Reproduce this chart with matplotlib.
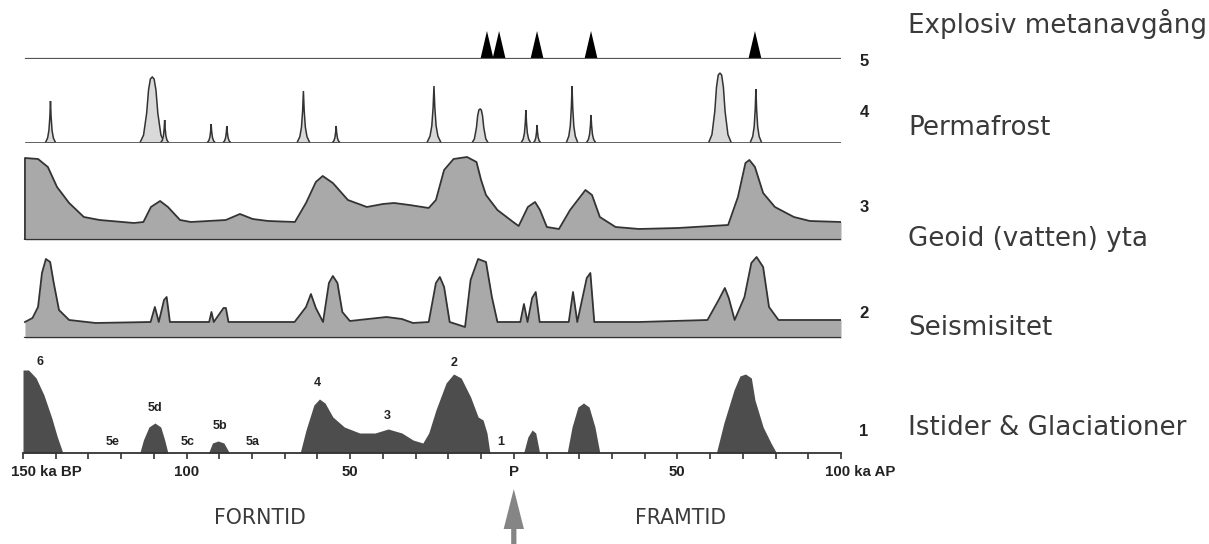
import numpy as np
import matplotlib
matplotlib.use('Agg')
from matplotlib import pyplot as plt

# time axis in ka: negative = before present (BP), positive = after present (AP)

# track 5 - explosive methane release
event_t = [-8.2, -4.5, 7.1, 23.6, 73.7]

# track 4 - permafrost peaks (centre, height, half width at base, rounded top?)
perma_t = [-141.6, -110.5, -106.7, -92.5, -87.7, -64.3, -54.3, -24.4, -10.3, 3.7, 7.1, 17.8, 23.6, 63.0, 74.0]
perma_h = [42, 66, 23, 19, 17, 52, 17, 57, 34, 33, 18, 57, 28, 70, 54]
perma_w = [1.6, 3.8, 1.3, 1.3, 1.3, 2.0, 1.3, 2.2, 2.5, 1.5, 1.2, 1.8, 1.5, 3.5, 1.8]
perma_round = [0, 1, 0, 0, 0, 0, 0, 0, 1, 0, 0, 0, 0, 1, 0]

# track 3 - geoid (water) surface
geoid_t = [-149.4, -145.4, -142.4, -139.6, -135.9, -131.4, -126.6, -116.1, -113.2, -110.9, -108.1, -105.7,
           -102.0, -98.7, -88.0, -83.7, -79.8, -75.1, -66.9, -63.5, -60.5, -58.4, -55.3, -50.7, -44.9,
           -40.0, -36.6, -31.9, -26.0, -23.8, -21.3, -18.4, -14.3, -11.4, -10.0, -8.5, -5.0, -0.2, 1.5,
           4.3, 6.5, 8.0, 10.1, 13.8, 17.2, 21.9, 23.9, 26.3, 31.1, 38.3, 50.2, 65.5, 68.5, 70.8, 72.0,
           73.7, 76.2, 79.8, 85.6, 90.5, 100.0]
geoid_h = [82, 81, 73, 53, 37, 23, 20, 17, 18, 33, 39, 33,
           20, 18, 20, 26, 21, 19, 18, 37, 58, 64, 57, 40, 33,
           36, 37, 35, 32, 40, 70, 81, 83, 78, 60, 45, 30, 18, 14,
           33, 38, 30, 13, 11, 30, 50, 45, 23, 13, 11, 12, 15, 43, 77, 80,
           73, 47, 33, 23, 19, 18]

# track 2 - seismicity
seis_t = [-149.4, -147.1, -145.4, -144.2, -143.0, -141.7, -140.6, -139.0, -135.9, -127.8, -111.0, -109.7,
          -108.5, -106.9, -106.1, -105.1, -93.1, -92.4, -91.7, -88.7, -88.0, -87.2, -67.0, -63.5, -62.0,
          -60.5, -58.3, -56.5, -55.3, -53.9, -52.4, -50.1, -38.9, -34.2, -30.8, -26.0, -23.8, -22.6, -21.3,
          -19.6, -14.9, -13.2, -10.9, -8.5, -6.7, -5.0, 2.0, 3.1, 4.2, 5.6, 6.7, 7.9, 16.8, 18.1, 19.4,
          22.3, 23.4, 24.6, 38.3, 59.2, 62.6, 64.5, 65.7, 67.5, 70.5, 72.6, 74.2, 76.2, 78.0, 80.9, 100.0]
seis_h = [16, 20, 31, 65, 79, 76, 55, 28, 18, 15, 16, 31,
          16, 38, 41, 16, 16, 26, 16, 30, 30, 16, 16, 31, 44,
          30, 16, 55, 62, 55, 26, 17, 21, 19, 15, 16, 55, 61, 51,
          16, 11, 58, 79, 76, 41, 16, 16, 34, 16, 40, 46, 16, 16, 46, 16,
          60, 65, 16, 16, 18, 38, 50, 40, 18, 41, 75, 81, 71, 31, 18, 18]

# track 1 - ice ages and glaciations
glac_t = [-150.0, -148.3, -146.0, -143.6, -141.2, -139.5, -137.8, -114.3, -113.2, -111.5, -109.7, -107.9,
          -106.7, -105.7, -93.3, -92.1, -90.4, -88.6, -86.9, -65.3, -63.5, -61.1, -59.4, -57.7, -55.3,
          -51.8, -47.1, -42.4, -38.4, -34.2, -30.8, -27.8, -26.0, -23.8, -20.7, -18.4, -16.1, -13.2, -10.9,
          -9.4, -8.2, -7.3, 3.0, 4.3, 5.6, 6.7, 7.9, 16.3, 17.8, 19.6, 21.3, 23.0, 24.8, 26.3, 61.9, 64.2,
          67.3, 69.1, 70.8, 72.6, 73.7, 76.2, 78.6, 80.3, 100.0]
glac_h = [83, 83, 75, 58, 35, 16, 0, 0, 13, 26, 30, 26,
          13, 0, 0, 10, 12, 10, 0, 0, 23, 48, 54, 50, 36,
          26, 20, 20, 24, 20, 13, 10, 20, 43, 70, 79, 75, 56, 36,
          33, 20, 0, 0, 16, 23, 20, 0, 0, 26, 46, 50, 46, 26, 0, 0, 30,
          63, 77, 79, 75, 53, 26, 10, 0, 0]

stage_txt = ['6', '5e', '5d', '5c', '5b', '5a', '4', '3', '2', '1']
stage_t = [-144.8, -122.5, -109.7, -99.7, -89.8, -79.8, -60.0, -38.8, -18.4, -4.0]
stage_h = [91, 11, 45, 11, 27, 11, 70, 37, 90, 11]

tick_t = [-153.7, -100, -50, 0, 50, 95.1]
tick_txt = ['150 ka BP', '100', '50', 'P', '50', '100 ka AP']
tick_ha = ['left', 'center', 'center', 'center', 'center', 'left']

track_num = ['5', '4', '3', '2', '1']
track_name = ['Explosiv metanavgång', 'Permafrost', 'Geoid (vatten) yta', 'Seismisitet',
              'Istider & Glaciationer']

W, H = 1209, 544
X0, X1 = 23, 841
EDGE = '#333333'
plt.rcParams['font.family'] = 'DejaVu Sans'

fig = plt.figure(figsize=(W / 100, H / 100), dpi=100)


def track(base_px, height_px):
    ax = fig.add_axes([X0 / W, 1 - base_px / H, (X1 - X0) / W, height_px / H])
    ax.set_xlim(-150, 100)
    ax.set_ylim(0, height_px)
    ax.patch.set_visible(False)
    for s in ax.spines.values():
        s.set_visible(False)
    ax.set_xticks([])
    ax.set_yticks([])
    return ax


def labels(ax, i, num_y, name_y):
    ax.text(107.0, num_y, track_num[i], fontsize=12, fontweight='bold', family='Liberation Sans',
            color='#222222', ha='center', va='center', clip_on=False)
    ax.text(120.5, name_y, track_name[i], fontsize=18.8, color='#3a3a3a', ha='left',
            va='baseline', clip_on=False)


# track 5
ax5 = track(59, 40)
ax5.plot([-149, 100], [0, 0], color='#555555', lw=1.6)
for t in event_t:
    ax5.fill([t - 2, t, t + 2], [0, 28, 0], color='black', lw=0)
labels(ax5, 0, -3, 26)

# track 4
ax4 = track(143, 80)
ax4.plot([-149, 100], [0, 0], color='#555555', lw=1.3)
spike_dx = np.array([-1, -0.55, -0.3, -0.12, 0, 0.12, 0.3, 0.55, 1])
spike_dy = np.array([0, 0.12, 0.3, 0.62, 1, 0.62, 0.3, 0.12, 0])
round_dx = np.array([-1, -0.7, -0.45, -0.3, -0.15, 0, 0.15, 0.3, 0.45, 0.7, 1])
round_dy = np.array([0, 0.12, 0.45, 0.8, 0.97, 1, 0.97, 0.8, 0.45, 0.12, 0])
for c, h, w, r in zip(perma_t, perma_h, perma_w, perma_round):
    dx, dy = (round_dx, round_dy) if r else (spike_dx, spike_dy)
    ax4.fill(c + w * dx, h * dy, facecolor='#d9d9d9', edgecolor=EDGE, lw=1.1)
labels(ax4, 1, 31, 8)

# track 3
ax3 = track(240, 90)
ax3.fill_between(geoid_t, geoid_h, 0, color='#a9a9a9', lw=0)
ax3.plot([geoid_t[0]] + geoid_t, [0] + geoid_h, color=EDGE, lw=1.3, solid_joinstyle='round')
ax3.plot([geoid_t[0], 100], [0, 0], color=EDGE, lw=1.6)
labels(ax3, 2, 33, -6)

# track 2
ax2 = track(338, 90)
ax2.fill_between(seis_t, seis_h, 0, color='#a9a9a9', lw=0)
ax2.plot(seis_t, seis_h, color=EDGE, lw=1.3, solid_joinstyle='round')
ax2.plot([seis_t[0], 100], [0, 0], color=EDGE, lw=1.6)
labels(ax2, 3, 25, 3)

# track 1 with the time axis
ax1 = track(453, 100)
ax1.fill_between(glac_t, glac_h, 0, color='#4d4d4d', lw=0)
ax1.spines['bottom'].set_visible(True)
ax1.spines['bottom'].set_color(EDGE)
ax1.spines['bottom'].set_linewidth(1.3)
ax1.set_xticks(np.arange(-150, 101, 10))
ax1.set_xticklabels([])
ax1.tick_params(axis='x', direction='out', length=4.5, width=1.2, color=EDGE)
for t, s, h in zip(stage_t, stage_txt, stage_h):
    ax1.text(t, h, s, fontsize=9, fontweight='bold', family='Liberation Sans', color='#222222',
             ha='center', va='center')
for t, s, ha in zip(tick_t, tick_txt, tick_ha):
    ax1.text(t, -19, s, fontsize=10.8, fontweight='bold', family='Liberation Sans', color='#222222',
             ha=ha, va='center', clip_on=False)
ax1.text(-77.5, -65, 'FORNTID', fontsize=14.8, color='#3a3a3a', ha='center', va='center', clip_on=False)
ax1.text(51.0, -65, 'FRAMTID', fontsize=14.8, color='#3a3a3a', ha='center', va='center', clip_on=False)
ax1.arrow(0, -92, 0, 56, width=1.6, head_width=6.2, head_length=40, length_includes_head=True,
          color='#858585', lw=0, clip_on=False)
labels(ax1, 4, 21, 18)

fig.savefig('out.png', dpi=100)
